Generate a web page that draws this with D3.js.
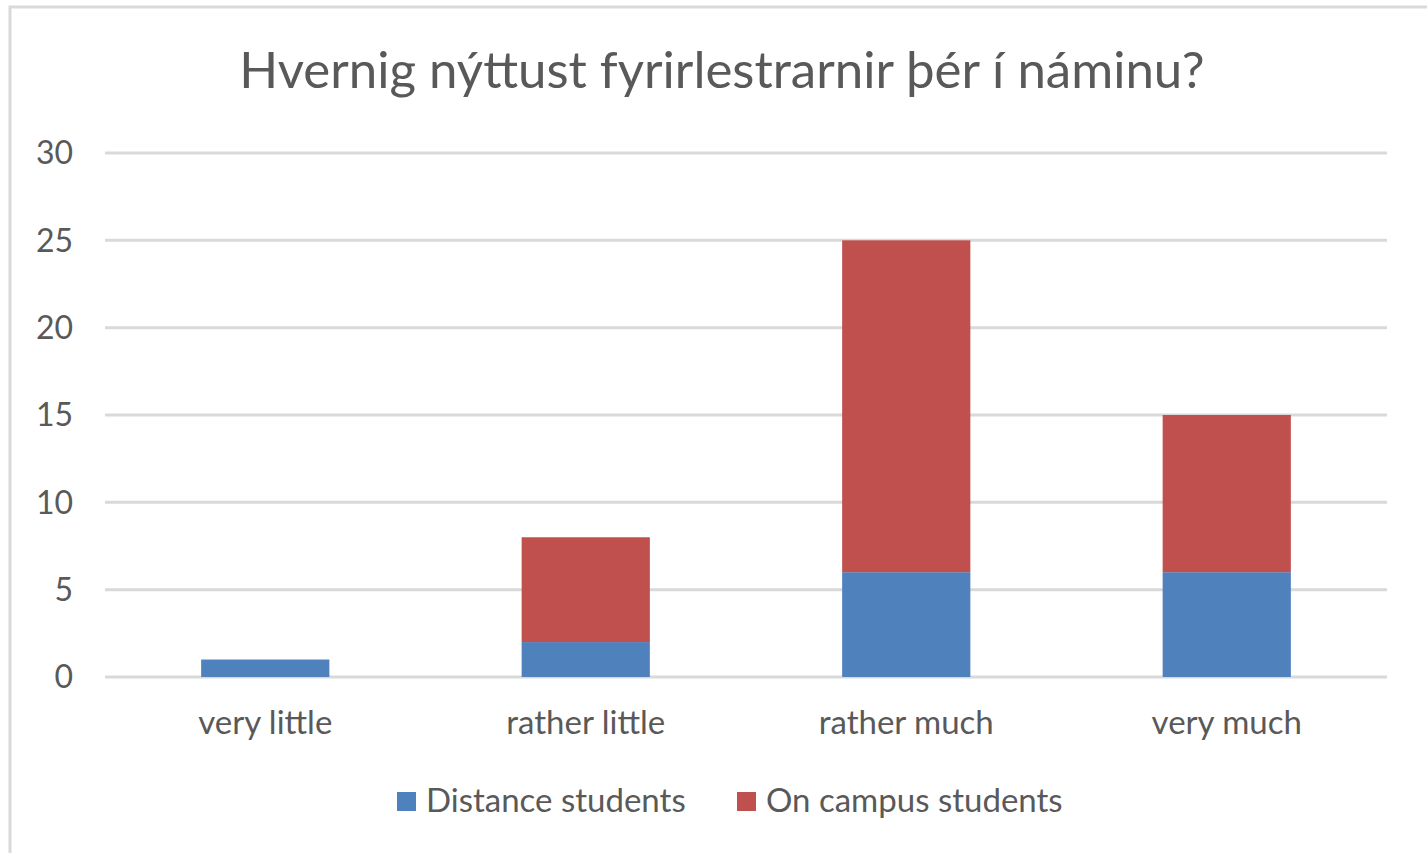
<!DOCTYPE html>
<html>
<head>
<meta charset="utf-8">
<script src="https://cdn.jsdelivr.net/npm/d3@7"></script>
<style>
  body { margin: 0; background: #fff; }
  svg { font-family: Lato, "Open Sans", sans-serif; }
</style>
</head>
<body>
<script>
// data
var title = "Hvernig nýttust fyrirlestrarnir þér í náminu?";
var categories = ["very little", "rather little", "rather much", "very much"];
var seriesNames = ["Distance students", "On campus students"];
var distance = [1, 2, 6, 6];
var onCampus = [0, 6, 19, 9];
var yTicks = [0, 5, 10, 15, 20, 25, 30];
var colors = ["#4F81BD", "#C0504D"];

var w = 1427, h = 853;
var plotLeft = 105, plotRight = 1387, plotTop = 153, plotBottom = 677;

var svg = d3.select("body").append("svg")
  .attr("width", w)
  .attr("height", h);

// chart border
svg.append("rect")
  .attr("x", 10).attr("y", 7)
  .attr("width", 1430).attr("height", 860)
  .attr("fill", "#fff")
  .attr("stroke", "#D9D9D9")
  .attr("stroke-width", 3);

svg.append("text")
  .text(title)
  .attr("x", 722)
  .attr("y", 88)
  .attr("text-anchor", "middle")
  .attr("font-size", "51px")
  .attr("fill", "#595959");

var x = d3.scaleBand()
  .domain(categories)
  .range([plotLeft, plotRight])
  .paddingInner(0.6)
  .paddingOuter(0.3);

var y = d3.scaleLinear()
  .domain([0, 30])
  .range([plotBottom, plotTop]);

// gridlines
svg.selectAll("line.grid")
  .data(yTicks)
  .enter()
  .append("line")
  .attr("class", "grid")
  .attr("x1", plotLeft).attr("x2", plotRight)
  .attr("y1", function(d) { return y(d); })
  .attr("y2", function(d) { return y(d); })
  .attr("stroke", "#D9D9D9")
  .attr("stroke-width", 3);

svg.selectAll("text.ytick")
  .data(yTicks)
  .enter()
  .append("text")
  .attr("class", "ytick")
  .text(function(d) { return d; })
  .attr("x", 73)
  .attr("y", function(d) { return y(d); })
  .attr("dy", "0.35em")
  .attr("text-anchor", "end")
  .attr("font-size", "32px")
  .attr("fill", "#595959");

// stacked bars
var rows = categories.map(function(c, i) {
  return { cat: c, "Distance students": distance[i], "On campus students": onCampus[i] };
});
var stack = d3.stack().keys(seriesNames)(rows);

svg.selectAll("g.series")
  .data(stack)
  .enter()
  .append("g")
  .attr("class", "series")
  .attr("fill", function(d, i) { return colors[i]; })
  .selectAll("rect")
  .data(function(d) { return d; })
  .enter()
  .append("rect")
  .attr("x", function(d) { return x(d.data.cat); })
  .attr("width", x.bandwidth())
  .attr("y", function(d) { return y(d[1]); })
  .attr("height", function(d) { return y(d[0]) - y(d[1]); });

svg.selectAll("text.xtick")
  .data(categories)
  .enter()
  .append("text")
  .attr("class", "xtick")
  .text(function(d) { return d; })
  .attr("x", function(d) { return x(d) + x.bandwidth() / 2; })
  .attr("y", 734)
  .attr("text-anchor", "middle")
  .attr("font-size", "33px")
  .attr("fill", "#595959");

// legend
var legendX = [397, 737];
var lg = svg.selectAll("g.legend")
  .data(seriesNames)
  .enter()
  .append("g")
  .attr("class", "legend")
  .attr("transform", function(d, i) { return "translate(" + legendX[i] + ",792)"; });

lg.append("rect")
  .attr("width", 19).attr("height", 19)
  .attr("fill", function(d, i) { return colors[i]; });

lg.append("text")
  .text(function(d) { return d; })
  .attr("x", 29)
  .attr("y", 20)
  .attr("font-size", "33px")
  .attr("fill", "#595959");
</script>
</body>
</html>
